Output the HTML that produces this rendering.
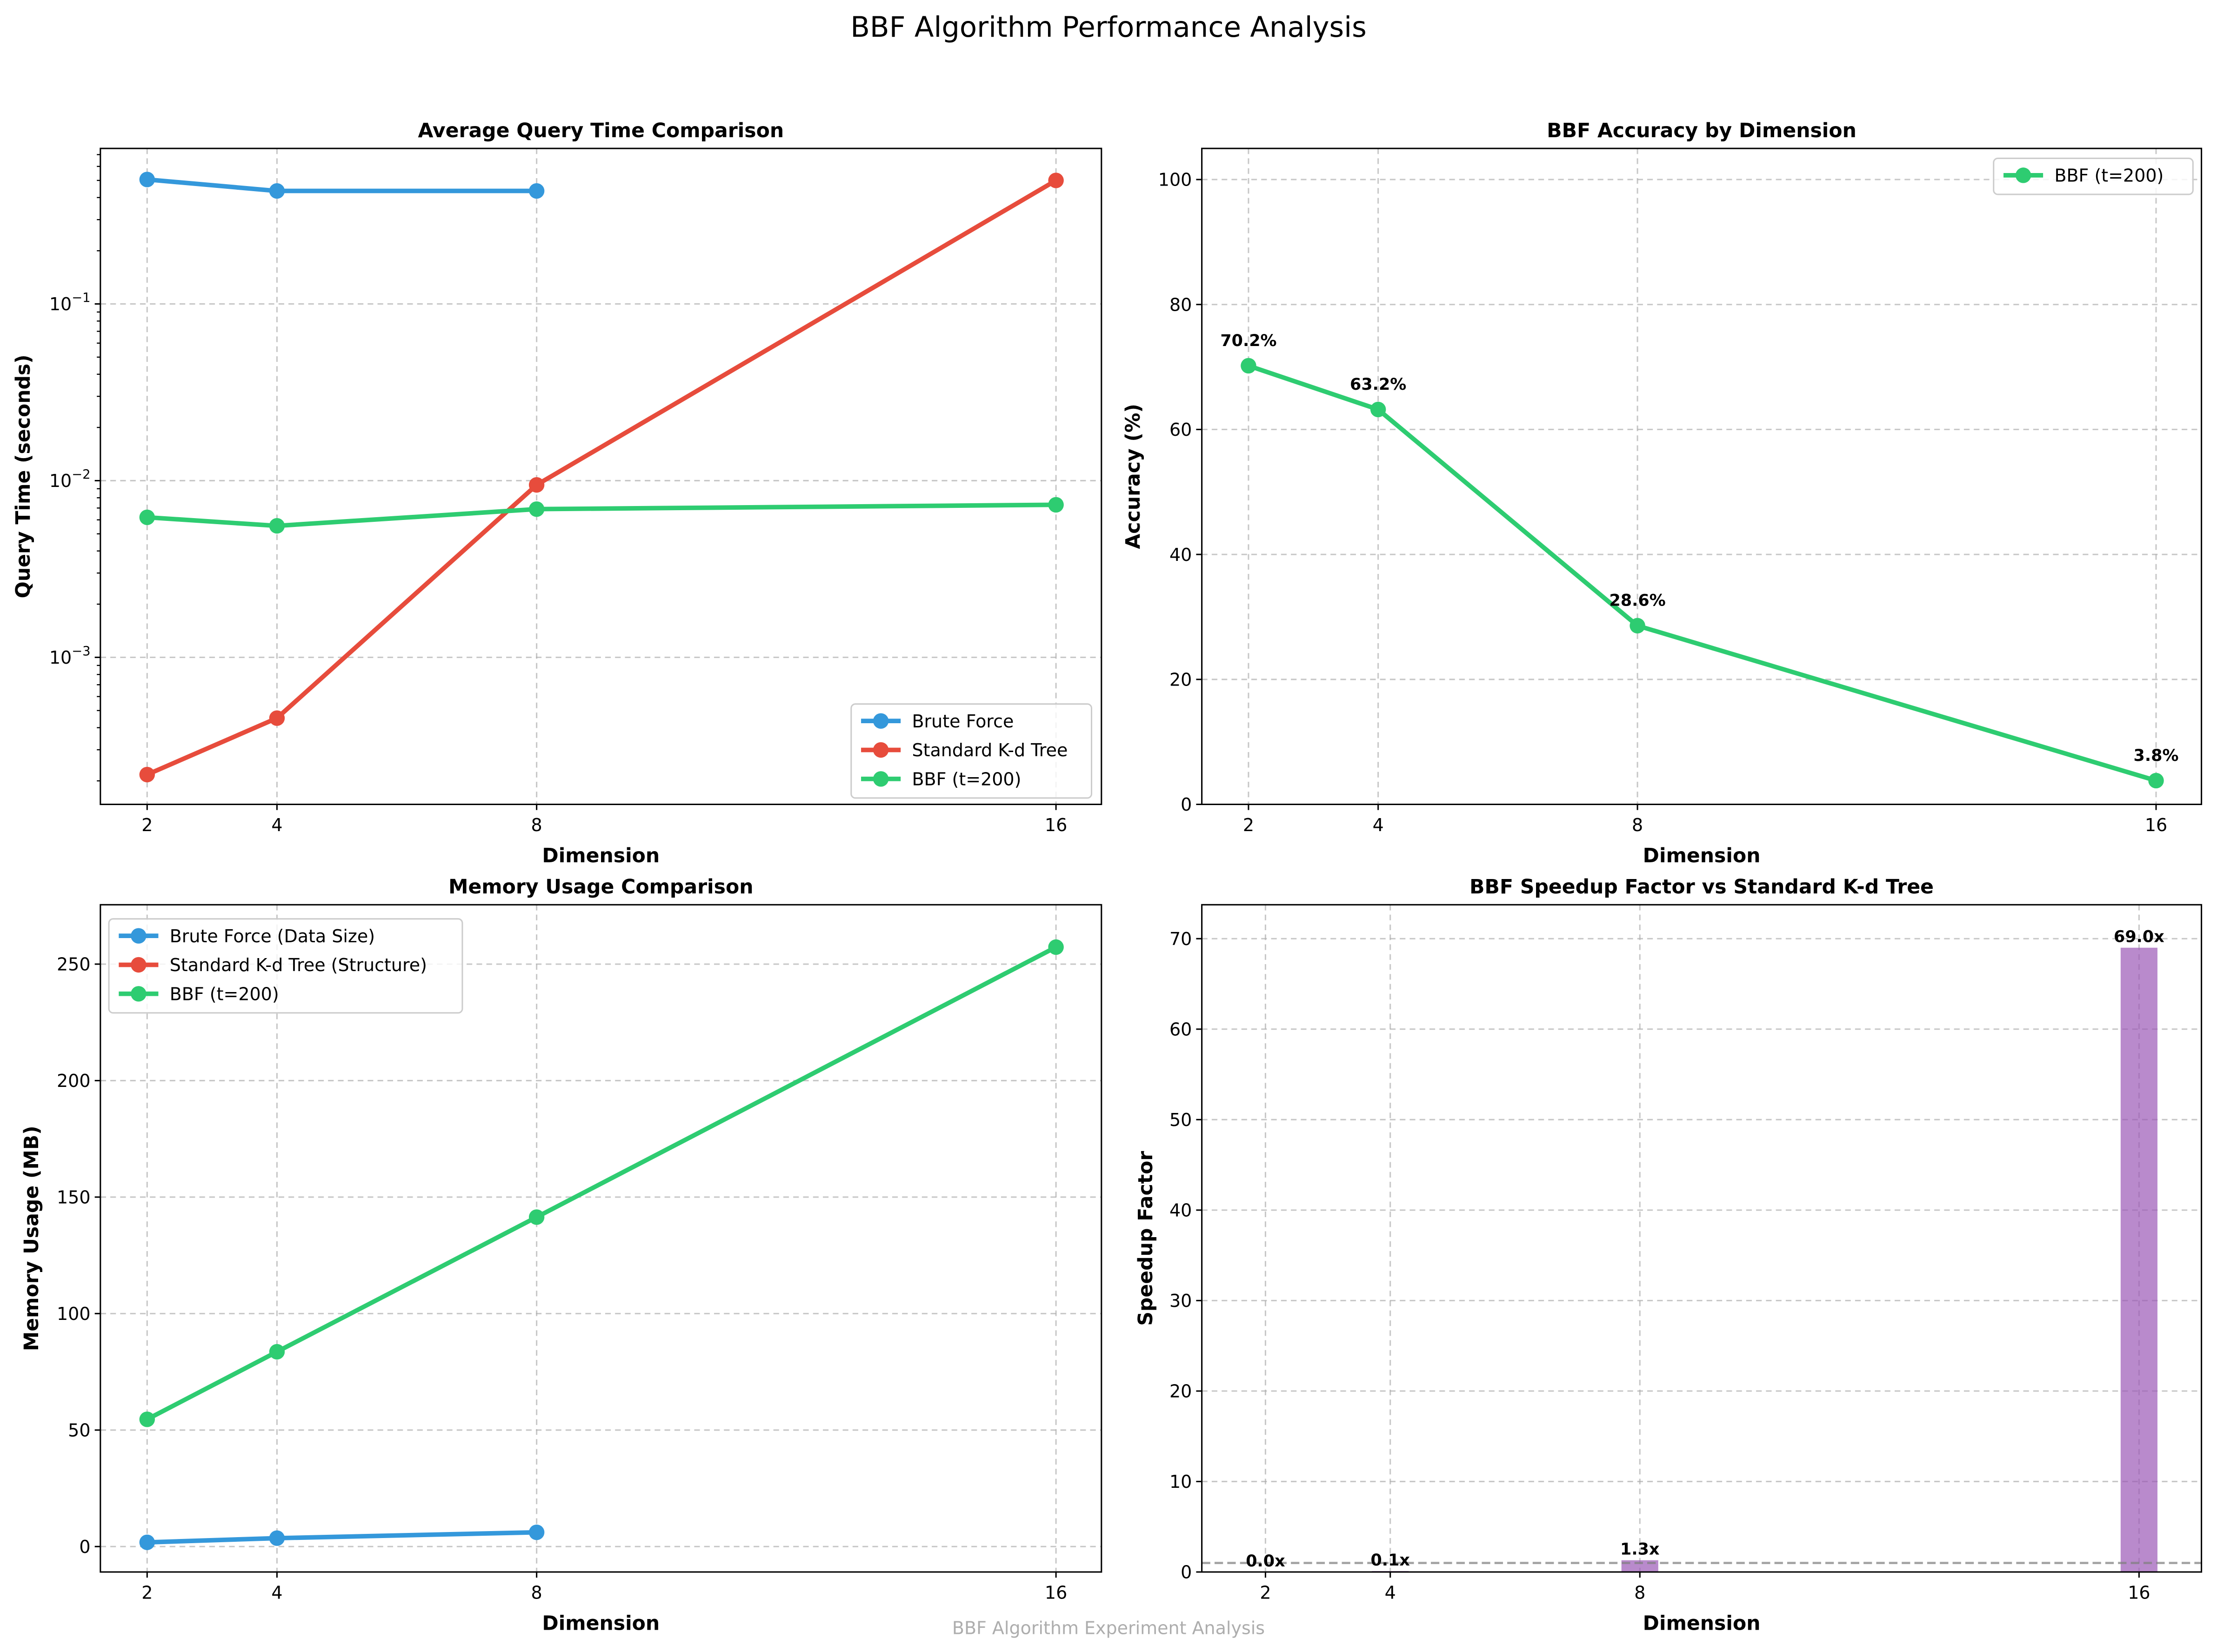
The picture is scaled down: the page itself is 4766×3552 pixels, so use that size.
<!DOCTYPE html>
<html><head><meta charset="utf-8"><style>
html,body{margin:0;padding:0;background:#fff;}
svg{display:block;font-family:"DejaVu Sans","Liberation Sans",sans-serif;}
</style></head><body>
<svg id="fig" xmlns="http://www.w3.org/2000/svg" width="4766" height="3552" viewBox="0 0 1568 1168.6">
<rect width="1568" height="1168.6" fill="#fff"/>
<text x="784" y="26" text-anchor="middle" font-size="20">BBF Algorithm Performance Analysis</text>
<text x="784" y="1156" text-anchor="middle" font-size="12.5" fill="#999" opacity="0.8">BBF Algorithm Experiment Analysis</text>
</svg>
<script>
const dims = [2, 4, 8, 16];
const bruteTime = [0.506, 0.436, 0.436];
const kdTime = [0.000217, 0.000453, 0.00946, 0.5];
const bbfTime = [0.0062, 0.00555, 0.0069, 0.0073];
const accuracy = [70.2, 63.2, 28.6, 3.8];
const bruteMem = [1.8, 3.6, 6.1];
const bbfMem = [54.6, 83.6, 141.4, 257.3];
const speedup = [0.0, 0.1, 1.3, 69.0];
const speedLabels = ["0.0x", "0.1x", "1.3x", "69.0x"];
const yTicksAcc = [0, 20, 40, 60, 80, 100];
const yTicksMem = [0, 50, 100, 150, 200, 250];
const yTicksSpeed = [0, 10, 20, 30, 40, 50, 60, 70];
const logDecades = [-3, -2, -1];

const NS = "http://www.w3.org/2000/svg";
const svg = document.getElementById("fig");
const BLUE = "#3498db", RED = "#e74c3c", GREEN = "#2ecc71";

function mk(tag, attrs, parent) {
  const e = document.createElementNS(NS, tag);
  for (const k in attrs) e.setAttribute(k, attrs[k]);
  (parent || svg).appendChild(e);
  return e;
}
function txt(s, attrs, parent) { const e = mk("text", attrs, parent); e.textContent = s; return e; }

function panel(name, L, R, T, B, xd, yfun) {
  const g = mk("g", {});
  
  
  const sx = v => L + (v - xd[0]) / (xd[1] - xd[0]) * (R - L);
  return {g, sx, sy: yfun, L, R, T, B};
}
function frame(p, title, xlabel, ylabel, ylabX) {
  const r = mk("rect", {x: p.L, y: p.T, width: p.R - p.L, height: p.B - p.T, fill: "none", stroke: "#000", "stroke-width": 1}, p.g);
  
  
  const t = txt(title, {x: (p.L + p.R) / 2, y: p.T - 8, "text-anchor": "middle", "font-size": 14, "font-weight": "bold"}, p.g);
  
  
  const xl = txt(xlabel, {x: (p.L + p.R) / 2, y: p.B + 41, "text-anchor": "middle", "font-size": 14, "font-weight": "bold"}, p.g);
  
  
  const cy = (p.T + p.B) / 2;
  const yl = txt(ylabel, {x: ylabX, y: cy, "text-anchor": "middle", "font-size": 14, "font-weight": "bold", transform: `rotate(-90 ${ylabX} ${cy})`}, p.g);
  
  
}
function xticks(p) {
  dims.forEach(d => {
    const x = p.sx(d);
    const gl = mk("line", {x1: x, x2: x, y1: p.T, y2: p.B, stroke: "#b0b0b0", "stroke-dasharray": "4,3", opacity: 0.7}, p.g);
    
    
    mk("line", {x1: x, x2: x, y1: p.B, y2: p.B + 4, stroke: "#000"}, p.g);
    const t = txt(String(d), {x: x, y: p.B + 19, "text-anchor": "middle", "font-size": 12.5}, p.g);
    
    
  });
}
function yticks(p, ticks) {
  ticks.forEach(v => {
    const y = p.sy(v);
    const gl = mk("line", {x1: p.L, x2: p.R, y1: y, y2: y, stroke: "#b0b0b0", "stroke-dasharray": "4,3", opacity: 0.7}, p.g);
    
    
    mk("line", {x1: p.L - 4, x2: p.L, y1: y, y2: y, stroke: "#000"}, p.g);
    const t = txt(String(v), {x: p.L - 7, y: y + 4.5, "text-anchor": "end", "font-size": 12.5}, p.g);
    
    
  });
}
function series(p, xs, ys, color, name) {
  const pts = ys.map((v, i) => [p.sx(xs[i]), p.sy(v)]);
  const pl = mk("polyline", {points: pts.map(q => q.join(",")).join(" "), fill: "none", stroke: color, "stroke-width": 3.2, "stroke-linejoin": "round"}, p.g);
  
  
  pts.forEach(q => {
    const c = mk("circle", {cx: q[0], cy: q[1], r: 5.5, fill: color}, p.g);
    
    
  });
}
function legend(p, x, y, w, entries) {
  const h = entries.length * 20.5 + 5;
  const lg = mk("g", {}, p.g);
  
  
  mk("rect", {x: x, y: y, width: w, height: h, rx: 3, fill: "#fff", "fill-opacity": 0.8, stroke: "#ccc"}, lg);
  entries.forEach((e, i) => {
    const yy = y + 12 + i * 20.5;
    const eg = mk("g", {}, lg);
    
    
    mk("line", {x1: x + 7, x2: x + 35, y1: yy, y2: yy, stroke: e[1], "stroke-width": 3.2}, eg);
    mk("circle", {cx: x + 21, cy: yy, r: 5.5, fill: e[1]}, eg);
    txt(e[0], {x: x + 43, y: yy + 4.5, "font-size": 12.5}, eg);
  });
}

// Panel 1: log query time
(function () {
  const T = 105, B = 569, y1 = 215, dec = 125;
  const p = panel("query-time-chart", 71, 779, T, B, [1.28, 16.7], v => y1 - (Math.log10(v) + 1) * dec);
  xticks(p);
  logDecades.forEach(d => {
    const y = p.sy(Math.pow(10, d));
    const gl = mk("line", {x1: p.L, x2: p.R, y1: y, y2: y, stroke: "#b0b0b0", "stroke-dasharray": "4,3", opacity: 0.7}, p.g);
    
    
    mk("line", {x1: p.L - 4, x2: p.L, y1: y, y2: y, stroke: "#000"}, p.g);
    const t = mk("text", {x: p.L - 7, y: y + 4.5, "text-anchor": "end", "font-size": 12.5}, p.g);
    
    
    t.textContent = "10";
    const sp = mk("tspan", {dy: -6, "font-size": 9}, t);
    sp.textContent = "\u2212" + Math.abs(d);
  });
  for (let d = -4; d <= 0; d++) for (let m = 2; m <= 9; m++) {
    const y = p.sy(m * Math.pow(10, d));
    if (y > p.T && y < p.B) mk("line", {x1: p.L - 2.5, x2: p.L, y1: y, y2: y, stroke: "#000", "stroke-width": 0.8}, p.g);
  }
  series(p, dims, bruteTime, BLUE, "brute-force");
  series(p, dims, kdTime, RED, "kd-tree");
  series(p, dims, bbfTime, GREEN, "bbf");
  frame(p, "Average Query Time Comparison", "Dimension", "Query Time (seconds)", 21);
  legend(p, 602, 498, 170, [["Brute Force", BLUE], ["Standard K-d Tree", RED], ["BBF (t=200)", GREEN]]);
})();

// Panel 2: accuracy
(function () {
  const p = panel("accuracy-chart", 850, 1557, 105, 569, [1.28, 16.7], v => 569 - v * 4.42);
  xticks(p); yticks(p, yTicksAcc);
  series(p, dims, accuracy, GREEN, "bbf-accuracy");
  accuracy.forEach((v, i) => {
    const t = txt(v.toFixed(1) + "%", {x: p.sx(dims[i]), y: p.sy(v) - 14, "text-anchor": "middle", "font-size": 11.5, "font-weight": "bold"}, p.g);
    
    
  });
  frame(p, "BBF Accuracy by Dimension", "Dimension", "Accuracy (%)", 806);
  legend(p, 1410, 112, 141, [["BBF (t=200)", GREEN]]);
})();

// Panel 3: memory
(function () {
  const p = panel("memory-chart", 71, 779, 640, 1112, [1.28, 16.7], v => 1094 - v * 1.648);
  xticks(p); yticks(p, yTicksMem);
  series(p, dims, bruteMem, BLUE, "brute-force-memory");
  series(p, dims, bbfMem, GREEN, "bbf-memory");
  frame(p, "Memory Usage Comparison", "Dimension", "Memory Usage (MB)", 27);
  legend(p, 77, 650, 250, [["Brute Force (Data Size)", BLUE], ["Standard K-d Tree (Structure)", RED], ["BBF (t=200)", GREEN]]);
})();

// Panel 4: speedup bars
(function () {
  const xd = [0.98, 17.0];
  const p = panel("speedup-chart", 850, 1557, 640, 1112, xd, v => 1112 - v * 6.4);
  xticks(p); yticks(p, yTicksSpeed);
  const bw = 0.59 * (p.R - p.L) / (xd[1] - xd[0]);
  speedup.forEach((v, i) => {
    const x = p.sx(dims[i]);
    const b = mk("rect", {x: x - bw / 2, y: p.sy(v), width: bw, height: p.B - p.sy(v), fill: "#9b59b6", "fill-opacity": 0.7}, p.g);
    
    
  });
  const ly = p.sy(1);
  const rl = mk("line", {x1: p.L, x2: p.R, y1: ly, y2: ly, stroke: "#7f7f7f", "stroke-width": 1.6, "stroke-dasharray": "6,3", opacity: 0.7}, p.g);
  
  
  speedup.forEach((v, i) => {
    const t = txt(speedLabels[i], {x: p.sx(dims[i]), y: p.sy(v) - 4, "text-anchor": "middle", "font-size": 11.5, "font-weight": "bold"}, p.g);
    
    
  });
  frame(p, "BBF Speedup Factor vs Standard K-d Tree", "Dimension", "Speedup Factor", 815);
})();
</script>
</body></html>
